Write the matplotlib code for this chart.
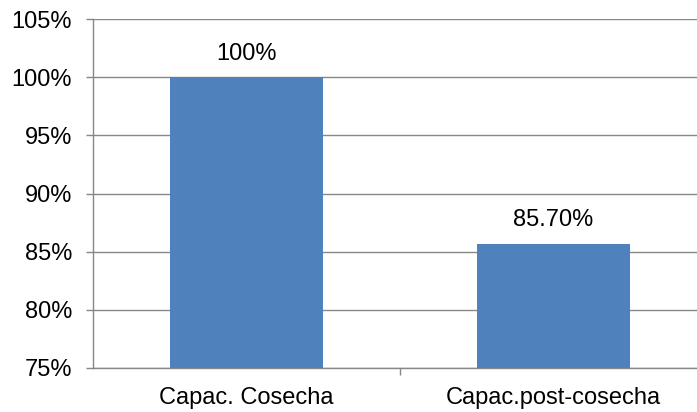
import matplotlib.pyplot as plt
from matplotlib.ticker import FuncFormatter

### Datos ###
categorias = ['Capac. Cosecha', 'Capac.post-cosecha']
valores = [100.0, 85.7]
etiquetas = ['100%', '85.70%']

plt.rcParams['font.family'] = ['Liberation Sans', 'DejaVu Sans']

fig = plt.figure(figsize=(6.97, 4.12), dpi=100)
ax = fig.add_axes([93 / 697, 44 / 412, 614 / 697, 349 / 412])

gris = '#878787'
fs = 17
x = list(range(len(categorias)))
ax.bar(x, valores, width=0.5, color='#4F81BD', zorder=3)

# Etiquetas encima de las barras
for xi, v, t in zip(x, valores, etiquetas):
    ax.text(xi, v + 1.05, t, ha='center', va='bottom', fontsize=fs)

ax.set_xlim(-0.5, 1.5)
ax.set_ylim(75, 105)
ax.set_yticks(range(75, 106, 5))
ax.yaxis.set_major_formatter(FuncFormatter(lambda v, p: '%d%%' % v))
ax.yaxis.grid(True, color=gris, linewidth=1, zorder=0)

ax.set_xticks(x)
ax.set_xticklabels(categorias, fontsize=fs)
ax.set_xticks([0.5], minor=True)
ax.tick_params(axis='x', which='major', length=0, pad=14)
ax.tick_params(axis='x', which='minor', length=5, color=gris, width=1)
ax.tick_params(axis='y', length=5, color=gris, width=1, labelsize=fs, pad=10)

for s in ['top', 'right']:
    ax.spines[s].set_visible(False)
for s in ['left', 'bottom']:
    ax.spines[s].set_color(gris)
    ax.spines[s].set_linewidth(1)

fig.savefig('out.png', dpi=100)
